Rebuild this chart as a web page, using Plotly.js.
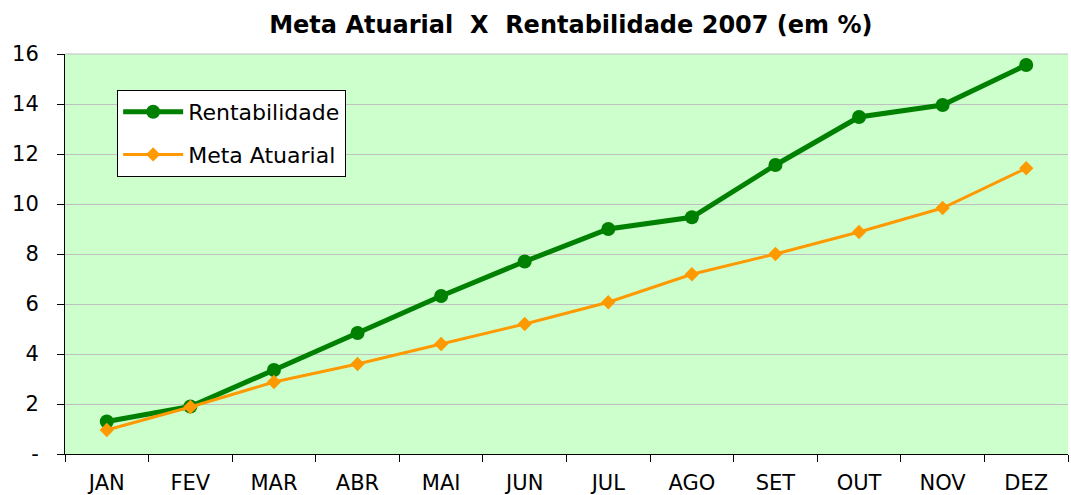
<!DOCTYPE html>
<html><head><meta charset="utf-8">
<script src="https://cdn.plot.ly/plotly-3.0.1.min.js"></script>
<style>body{margin:0;background:#fff}#c{width:1071px;height:495px}</style>
</head><body><div id="c"></div>
<script>
const months = ["JAN","FEV","MAR","ABR","MAI","JUN","JUL","AGO","SET","OUT","NOV","DEZ"];
const rentabilidade = [1.3,1.9,3.36,4.84,6.32,7.7,9.0,9.47,11.56,13.48,13.96,15.56];
const metaAtuarial = [0.96,1.88,2.88,3.6,4.4,5.2,6.07,7.19,8.0,8.88,9.84,11.43];
const yTickVals = [0,2,4,6,8,10,12,14,16];
const yTickText = ["-","2","4","6","8","10","12","14","16"];

const font = "Verdana, 'DejaVu Sans', sans-serif";
const traces = [
  {x: months, y: rentabilidade, name: "Rentabilidade", type: "scatter", mode: "lines+markers",
   legendgroup: "a",
   line: {color: "#008000", width: 5}, marker: {symbol: "circle", size: 14, color: "#008000"}},
  {x: months, y: metaAtuarial, name: "Meta Atuarial", type: "scatter", mode: "lines+markers",
   legendgroup: "b",
   line: {color: "#FF9900", width: 3}, marker: {symbol: "diamond", size: 11, color: "#FF9900"}}
];
const layout = {
  width: 1071, height: 495,
  margin: {l: 65, r: 3, t: 54, b: 41},
  paper_bgcolor: "#ffffff", plot_bgcolor: "#CCFFCC",
  font: {family: font, color: "#000", size: 21},
  title: {text: "<b>Meta Atuarial  X  Rentabilidade 2007 (em %)</b>", x: 0.533, xanchor: "center", y: 0.95, yanchor: "middle",
          font: {family: font, size: 24, color: "#000"}},
  xaxis: {type: "category", range: [-0.5, 11.5], showline: true, linecolor: "#000", linewidth: 1,
          ticks: "outside", tickson: "boundaries", ticklen: 7, tickcolor: "#000", ticklabelstandoff: 10,
          showgrid: false, tickfont: {size: 21}, fixedrange: true},
  yaxis: {range: [0, 16], tickvals: yTickVals, ticktext: yTickText, showline: true, linecolor: "#000", linewidth: 1,
          ticks: "outside", ticklen: 7, tickcolor: "#000", ticklabelstandoff: 14, showgrid: true, gridcolor: "#C0C0C0", gridwidth: 1,
          zeroline: false, tickfont: {size: 21}, fixedrange: true},
  showlegend: true,
  legend: {x: 0.052, y: 0.91, xanchor: "left", yanchor: "top", bgcolor: "#ffffff", bordercolor: "#000", borderwidth: 1,
           font: {size: 22}, tracegroupgap: 11, itemwidth: 60},
  shapes: [{type: "line", xref: "paper", yref: "paper", x0: 0, x1: 1, y0: 1, y1: 1, line: {color: "#C0C0C0", width: 1}}]
};
Plotly.newPlot("c", traces, layout, {staticPlot: true, displayModeBar: false});
</script></body></html>
